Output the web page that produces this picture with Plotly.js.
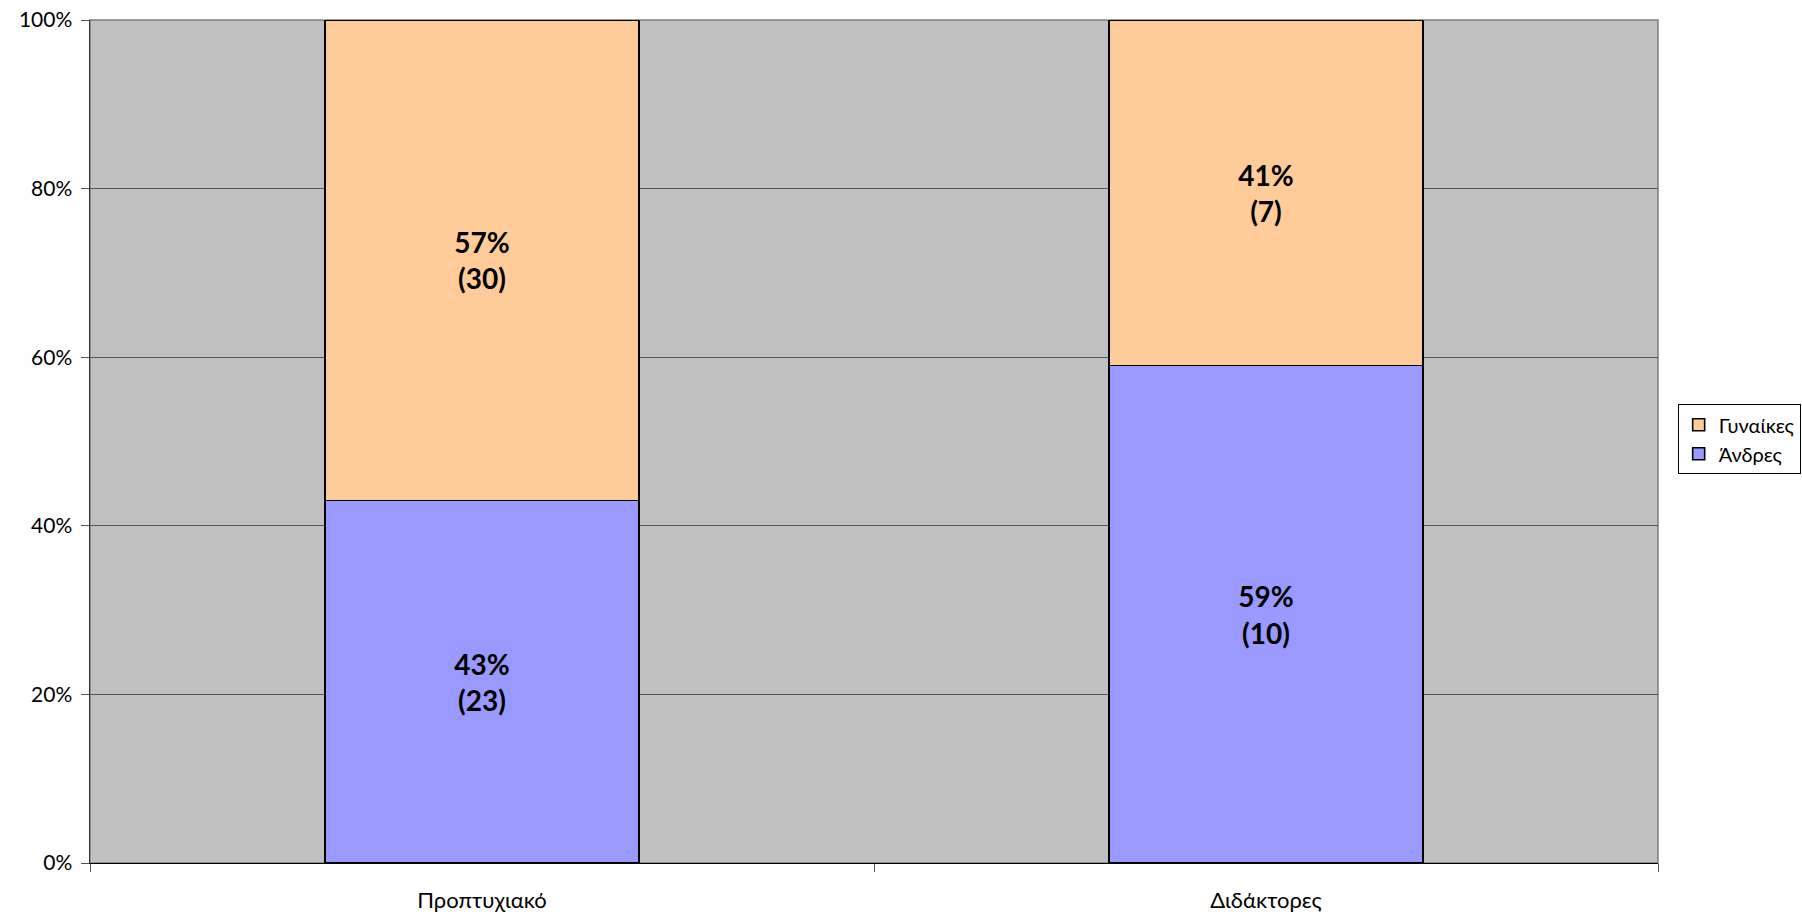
<!DOCTYPE html>
<html><head><meta charset="utf-8">
<script src="https://cdn.plot.ly/plotly-3.0.1.min.js"></script>
<style>html,body{margin:0;padding:0;background:#fff;}#chart{width:1802px;height:921px;}</style>
</head><body><div id="chart"></div>
<script>
const categories = ["Προπτυχιακό", "Διδάκτορες"];
const seriesNames = ["Άνδρες", "Γυναίκες"];
const menPct = [43, 59];
const menCount = [23, 10];
const womenPct = [57, 41];
const womenCount = [30, 7];
const yTicks = [0, 20, 40, 60, 80, 100];

function labels(p, c){ return p.map((v,i)=> v + "%<br>(" + c[i] + ")"); }

const common = {
  type: "bar", x: categories, textposition: "inside", insidetextanchor: "middle",
  textangle: 0, constraintext: "none",
  textfont: {family: "Lato, 'Open Sans', sans-serif", size: 28, color: "#000", weight: "bold"},
  hoverinfo: "skip"
};
const traces = [
  Object.assign({}, common, {name: seriesNames[0], y: menPct, text: labels(menPct, menCount),
    marker: {color: "#9999FF", line: {color: "#000", width: 1.6}}}),
  Object.assign({}, common, {name: seriesNames[1], y: womenPct, text: labels(womenPct, womenCount),
    marker: {color: "#FFCC99", line: {color: "#000", width: 1.6}}})
];
const layout = {
  width: 1802, height: 921,
  margin: {l: 90, r: 144, t: 20, b: 58},
  paper_bgcolor: "#FFFFFF", plot_bgcolor: "#C0C0C0",
  barmode: "stack", bargap: 0.6,
  font: {family: "Lato, 'Open Sans', sans-serif", color: "#000"},
  xaxis: {
    showgrid: false, showline: true, linecolor: "#000", linewidth: 1,
    ticks: "outside", tickson: "boundaries", ticklen: 8, tickcolor: "#555",
    tickfont: {size: 22}, zeroline: false, ticklabelstandoff: 18
  },
  yaxis: {
    range: [0, 100], tickvals: yTicks, ticktext: yTicks.map(v => v + "%"),
    showgrid: true, gridcolor: "#555", gridwidth: 1,
    showline: true, linecolor: "#333", linewidth: 1.5,
    ticks: "outside", ticklen: 8, tickcolor: "#555",
    tickfont: {size: 21}, zeroline: false, ticklabelstandoff: 4
  },
  shapes: [{type: "rect", xref: "paper", yref: "paper", x0: 0, x1: 1, y0: 0, y1: 1,
    line: {color: "#808080", width: 1.5}, layer: "below"}],
  showlegend: true,
  legend: {
    xref: "container", yref: "container",
    x: 0.931, y: 0.561, xanchor: "left", yanchor: "top",
    traceorder: "reversed", bgcolor: "#FFFFFF", bordercolor: "#000", borderwidth: 1,
    font: {size: 20}, itemwidth: 30, tracegroupgap: 0
  }
};
Plotly.newPlot("chart", traces, layout, {displayModeBar: false, staticPlot: true});
</script></body></html>
